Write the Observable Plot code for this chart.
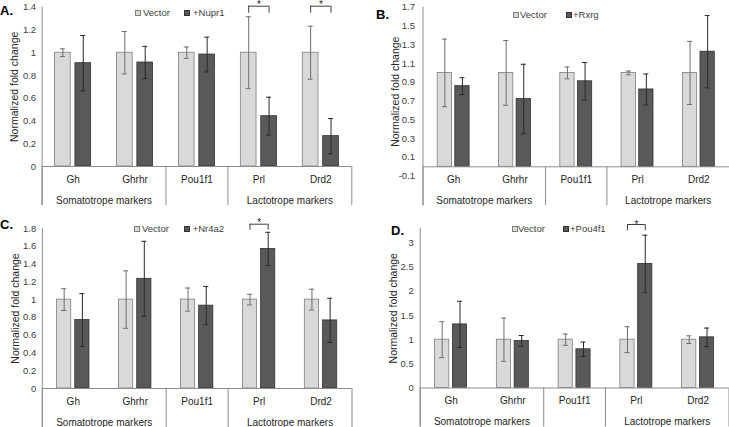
<!DOCTYPE html>
<html><head><meta charset="utf-8">
<script src="https://cdn.jsdelivr.net/npm/d3@7"></script>
<script src="https://cdn.jsdelivr.net/npm/@observablehq/plot@0.6"></script>
<style>
body{margin:0;background:#fff;}
#root{position:relative;width:729px;height:427px;overflow:hidden;font-family:"Liberation Sans",Arial,sans-serif;background:#fff;}
.panel{position:absolute;}
.panel svg{overflow:visible;display:block;}
.lbl{position:absolute;font-weight:bold;font-size:13px;color:#000;line-height:13px;}
.leg{position:absolute;font-size:9.5px;color:#404040;line-height:12px;white-space:nowrap;}
.sq{position:absolute;width:6px;height:6px;box-sizing:border-box;}
</style></head><body><div id="root"></div>
<script>
// ---- data ----
const genes = ["Gh", "Ghrhr", "Pou1f1", "Prl", "Drd2"];
const groups = [{name: "Somatotrope markers", first: "Gh"}, {name: "Lactotrope markers", first: "Prl"}];
const sepLeft = ["Gh", "Pou1f1", "Prl"];
const sepRight = ["Drd2"];
const yTitle = "Normalized fold change";

const vecMeanA = [1, 1, 1, 1, 1];
const vecErrA = [0.034, 0.186, 0.05, 0.316, 0.233];
const trtMeanA = [0.908, 0.914, 0.984, 0.442, 0.267];
const trtErrA = [0.243, 0.142, 0.153, 0.167, 0.155];
const ticksA = [0, 0.2, 0.4, 0.6, 0.8, 1, 1.2, 1.4];
const sigA = ["Prl", "Drd2"];

const vecMeanB = [1, 1, 1, 1, 1];
const vecErrB = [0.36, 0.345, 0.063, 0.02, 0.336];
const trtMeanB = [0.859, 0.722, 0.911, 0.824, 1.226];
const trtErrB = [0.09, 0.37, 0.2, 0.165, 0.385];
const ticksB = [-0.1, 0.1, 0.3, 0.5, 0.7, 0.9, 1.1, 1.3, 1.5, 1.7];
const sigB = [];

const vecMeanC = [1, 1, 1, 1, 1];
const vecErrC = [0.123, 0.323, 0.13, 0.06, 0.117];
const trtMeanC = [0.77, 1.234, 0.932, 1.57, 0.766];
const trtErrC = [0.297, 0.422, 0.215, 0.187, 0.249];
const ticksC = [0, 0.2, 0.4, 0.6, 0.8, 1, 1.2, 1.4, 1.6, 1.8];
const sigC = ["Prl"];

const vecMeanD = [1, 1, 1, 1, 1];
const vecErrD = [0.371, 0.447, 0.117, 0.268, 0.079];
const trtMeanD = [1.316, 0.973, 0.801, 2.567, 1.048];
const trtErrD = [0.478, 0.113, 0.148, 0.595, 0.192];
const ticksD = [0, 0.5, 1, 1.5, 2, 2.5, 3];
const sigD = ["Prl"];

// ---- layout ----
const panels = [
  {letter: "A.", trt: "+Nupr1", vm: vecMeanA, ve: vecErrA, tm: trtMeanA, te: trtErrA, ticks: ticksA, sig: sigA, domain: [0, 1.4],
   left: 0, top: 0, width: 364, height: 213, plotLeft: 41.6, plotRight: 351.3, mTop: 6.7, mBottom: 47, bw: 15.7, gap: 4.7,
   brTop: -1, brLeg: 6, starDy: -2.2, tickPad: 6,
   leg: {l: 135, lt: 143, d: 184, dt: 193, yc: 12.7}, lab: {x: 0, y: 3.5}},
  {letter: "B.", trt: "+Rxrg", vm: vecMeanB, ve: vecErrB, tm: trtMeanB, te: trtErrB, ticks: ticksB, sig: sigB, domain: [-0.1, 1.7],
   left: 364, top: 0, width: 365, height: 213, plotLeft: 422.5, plotRight: 729, mTop: 6.7, mBottom: 37.3, bw: 14.3, gap: 3.3,
   brTop: -1, brLeg: 6, starDy: -2.2, tickPad: 8,
   leg: {l: 513, lt: 520, d: 566, dt: 573, yc: 14.5}, lab: {x: 376, y: 7.5}},
  {letter: "C.", trt: "+Nr4a2", vm: vecMeanC, ve: vecErrC, tm: trtMeanC, te: trtErrC, ticks: ticksC, sig: sigC, domain: [0, 1.8],
   left: 0, top: 213, width: 364, height: 214, plotLeft: 41.8, plotRight: 351.5, mTop: 15, mBottom: 39, bw: 14.2, gap: 4,
   brTop: -4.3, brLeg: 1.7, starDy: -5.5, tickPad: 6,
   leg: {l: 134.3, lt: 142, d: 184.3, dt: 192.7, yc: 229}, lab: {x: 0, y: 217.5}},
  {letter: "D.", trt: "+Pou4f1", vm: vecMeanD, ve: vecErrD, tm: trtMeanD, te: trtErrD, ticks: ticksD, sig: sigD, domain: [0, 3.3],
   left: 364, top: 213, width: 365, height: 214, plotLeft: 419.7, plotRight: 728.5, mTop: 15, mBottom: 39.5, bw: 14.2, gap: 3.6,
   brTop: -4, brLeg: 2.3, starDy: -4.2, tickPad: 6.5,
   leg: {l: 511.7, lt: 518, d: 563.3, dt: 570, yc: 229}, lab: {x: 391, y: 224}}
];

const root = document.getElementById("root");
const axisColor = "#8c8c8c";
const ext = 39;
const capHalf = 2.5;

for (const p of panels) {
  const band = (p.plotRight - p.plotLeft) / genes.length;
  const outer = (band - 2 * p.bw - p.gap) / 2;
  const off = p.gap / 2 + p.bw / 2;
  const ymax = p.domain[1];
  const rows = genes.map((g, i) => ({gene: g, vm: p.vm[i], ve: p.ve[i], tm: p.tm[i], te: p.te[i]}));
  const svg = Plot.plot({
    width: p.width, height: p.height,
    marginLeft: p.plotLeft - p.left, marginRight: p.left + p.width - p.plotRight,
    marginTop: p.mTop, marginBottom: p.mBottom,
    style: {fontFamily: "Liberation Sans, Arial, sans-serif", fontSize: "9.5px", color: "#404040", background: "transparent", overflow: "visible"},
    x: {domain: genes, padding: 0, round: false, axis: null},
    y: {domain: p.domain, ticks: p.ticks, tickFormat: d => String(+d.toFixed(2)), tickSize: 0, tickPadding: p.tickPad, label: null},
    marks: [
      // bars
      Plot.barY(rows, {x: "gene", y: "vm", fill: "#d9d9d9", stroke: "#7f7f7f", strokeWidth: 0.8,
        insetLeft: outer, insetRight: band - outer - p.bw}),
      Plot.barY(rows, {x: "gene", y: "tm", fill: "#595959", stroke: "#333333", strokeWidth: 0.8,
        insetLeft: outer + p.bw + p.gap, insetRight: outer}),
      // axis lines
      Plot.ruleY([0], {stroke: axisColor}),
      Plot.ruleX([genes[0]], {x: d => d, y1: ymax, y2: 0, dx: -band / 2, insetBottom: -ext, stroke: axisColor}),
      Plot.ruleX(sepLeft, {x: d => d, y1: 0, y2: 0, dx: -band / 2, insetBottom: -ext, stroke: axisColor}),
      Plot.ruleX(sepRight, {x: d => d, y1: 0, y2: 0, dx: band / 2, insetBottom: -ext, stroke: axisColor}),
      // error bars vector
      Plot.ruleX(rows, {x: "gene", y1: r => r.vm - r.ve, y2: r => r.vm + r.ve, dx: -off, stroke: "#6e6e6e"}),
      Plot.tickY(rows, {x: "gene", y: r => r.vm + r.ve, insetLeft: band / 2 - off - capHalf, insetRight: band / 2 + off - capHalf, stroke: "#6e6e6e"}),
      Plot.tickY(rows, {x: "gene", y: r => r.vm - r.ve, insetLeft: band / 2 - off - capHalf, insetRight: band / 2 + off - capHalf, stroke: "#6e6e6e"}),
      // error bars treatment
      Plot.ruleX(rows, {x: "gene", y1: r => r.tm - r.te, y2: r => r.tm + r.te, dx: off, stroke: "#2a2a2a"}),
      Plot.tickY(rows, {x: "gene", y: r => r.tm + r.te, insetLeft: band / 2 + off - capHalf, insetRight: band / 2 - off - capHalf, stroke: "#2a2a2a"}),
      Plot.tickY(rows, {x: "gene", y: r => r.tm - r.te, insetLeft: band / 2 + off - capHalf, insetRight: band / 2 - off - capHalf, stroke: "#2a2a2a"}),
      // category labels
      Plot.text(genes, {x: d => d, y: 0, text: d => d, dy: 13, fontSize: 10, fill: "#262626"}),
      Plot.text(groups, {x: "first", y: 0, text: "name", dx: band / 2, dy: 34, fontSize: 10, fill: "#262626"}),
      // y title
      Plot.text([yTitle], {frameAnchor: "left", textAnchor: "middle", text: d => d, rotate: -90, dx: -27, fontSize: 10.5, fill: "#262626"}),
      // significance brackets
      Plot.ruleY(p.sig, {x1: d => d, x2: d => d, y: ymax, dy: p.brTop, insetLeft: band / 2 - off, insetRight: band / 2 - off, stroke: "#404040"}),
      Plot.ruleX(p.sig, {x: d => d, y1: ymax, y2: ymax, dx: -off, insetTop: p.brTop, insetBottom: -p.brLeg, stroke: "#404040"}),
      Plot.ruleX(p.sig, {x: d => d, y1: ymax, y2: ymax, dx: off, insetTop: p.brTop, insetBottom: -p.brLeg, stroke: "#404040"}),
      Plot.text(p.sig, {x: d => d, y: ymax, text: () => "*", dy: p.starDy, fontSize: 10, fill: "#262626"})
    ]
  });
  const holder = document.createElement("div");
  holder.className = "panel";
  holder.style.left = p.left + "px";
  holder.style.top = p.top + "px";
  holder.appendChild(svg);
  root.appendChild(holder);

  // legend
  const mk = (cls, html, x, y, extra) => {
    const e = document.createElement("div");
    e.className = cls;
    e.style.left = x + "px";
    e.style.top = y + "px";
    if (html != null) e.textContent = html;
    if (extra) Object.assign(e.style, extra);
    root.appendChild(e);
  };
  mk("sq", null, p.leg.l, p.leg.yc - 3, {background: "#d9d9d9", border: "1px solid #7f7f7f"});
  mk("leg", "Vector", p.leg.lt, p.leg.yc - 6);
  mk("sq", null, p.leg.d, p.leg.yc - 3, {background: "#595959", border: "1px solid #333"});
  mk("leg", p.trt, p.leg.dt, p.leg.yc - 6);
  mk("lbl", p.letter, p.lab.x, p.lab.y);
}
</script>
</body></html>
